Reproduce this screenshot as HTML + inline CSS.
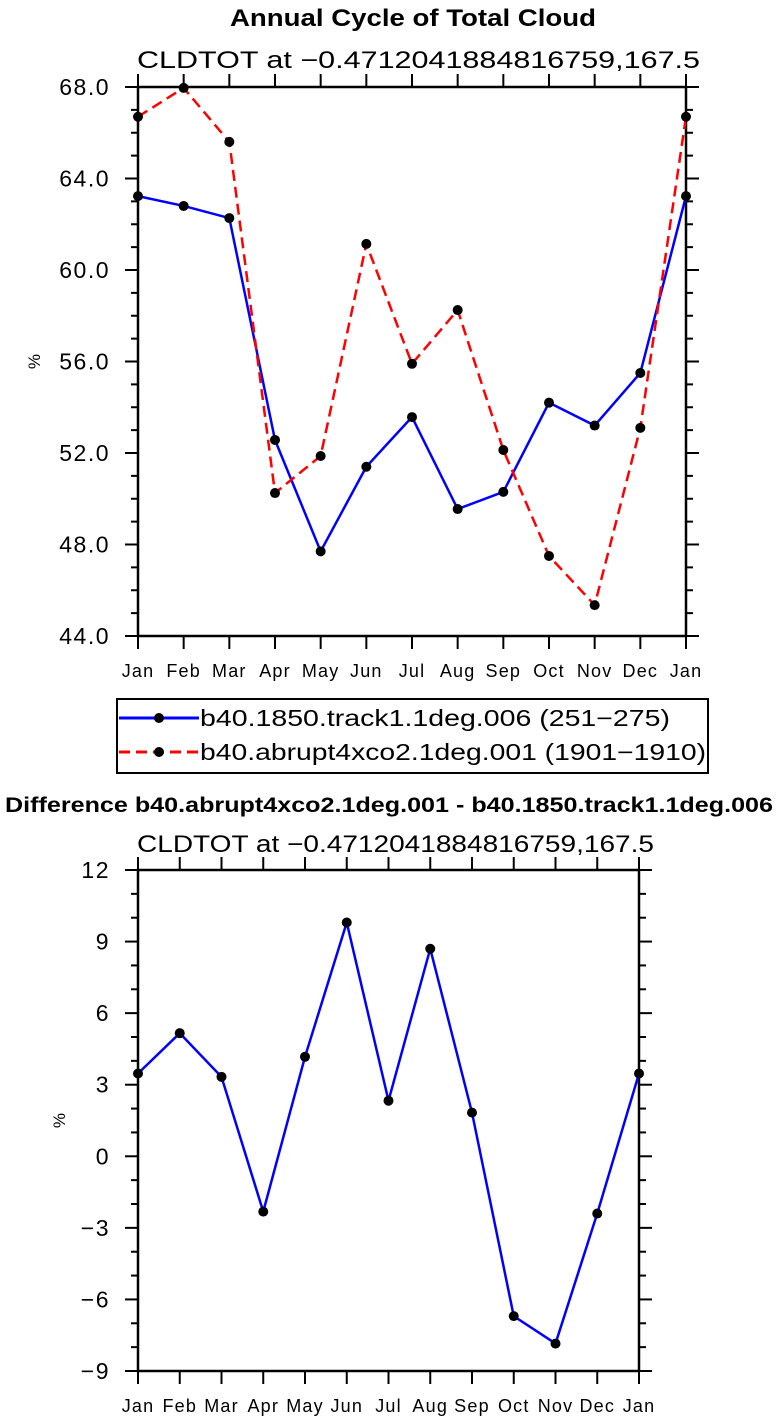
<!DOCTYPE html>
<html><head><meta charset="utf-8">
<style>
html,body{margin:0;padding:0;background:#fff;}
svg{display:block;font-family:"Liberation Sans",sans-serif;}
</style></head>
<body>
<svg id="chart" width="778" height="1419" xmlns="http://www.w3.org/2000/svg">
<text x="230" y="26" font-size="24" font-weight="bold" textLength="366" lengthAdjust="spacingAndGlyphs">Annual Cycle of Total Cloud</text>
<text x="137" y="68" font-size="24" textLength="563" lengthAdjust="spacingAndGlyphs">CLDTOT at −0.4712041884816759,167.5</text>
<text x="5" y="812" font-size="21" font-weight="bold" textLength="768" lengthAdjust="spacingAndGlyphs">Difference b40.abrupt4xco2.1deg.001 - b40.1850.track1.1deg.006</text>
<text x="137" y="852" font-size="24" textLength="517" lengthAdjust="spacingAndGlyphs">CLDTOT at −0.4712041884816759,167.5</text>
<g id="top"></g>
<g id="bot"></g>
<g>
<rect x="117" y="699" width="591" height="74" fill="none" stroke="#000" stroke-width="2"/>
<g>
<line x1="119" y1="718" x2="199" y2="718" stroke="#0000ff" stroke-width="3"/>
<circle cx="159" cy="718" r="5"/>
<text x="200" y="726" font-size="23" textLength="470" lengthAdjust="spacingAndGlyphs">b40.1850.track1.1deg.006 (251−275)</text>
</g>
<g>
<line x1="119" y1="752" x2="199" y2="752" stroke="#ff0000" stroke-width="3" stroke-dasharray="11,6"/>
<circle cx="159" cy="752" r="5"/>
<text x="200" y="760" font-size="23" textLength="506" lengthAdjust="spacingAndGlyphs">b40.abrupt4xco2.1deg.001 (1901−1910)</text>
</g>
</g>
</svg>
<script>
var months = ["Jan","Feb","Mar","Apr","May","Jun","Jul","Aug","Sep","Oct","Nov","Dec","Jan"];
var ctrlVals = [63.23,62.8,62.27,52.57,47.7,51.4,53.57,49.55,50.3,54.2,53.2,55.5,63.23];
var abrVals = [66.7,67.96,65.6,50.25,51.87,61.14,55.9,58.25,52.13,47.5,45.35,53.1,66.7];
var diffVals = [3.47,5.16,3.33,-2.32,4.17,9.8,2.33,8.7,1.83,-6.7,-7.85,-2.4,3.47];
var topTicks = ["44.0","48.0","52.0","56.0","60.0","64.0","68.0"];
var botTicks = ["-9","-6","-3","0","3","6","9","12"];
var NS="http://www.w3.org/2000/svg";
function mk(parent,tag,attrs){var e=document.createElementNS(NS,tag);for(var k in attrs)e.setAttribute(k,attrs[k]);parent.appendChild(e);return e;}
function plot(g,box,ymin,ymax,majorStep,minorStep,tickLabels,series,labelX){
  var L=box[0],T=box[1],R=box[2],B=box[3];
  function xs(i){return L+(R-L)*i/(months.length-1);}
  function ys(v){return B-(B-T)*(v-ymin)/(ymax-ymin);}
  var frame=mk(g,'rect',{x:L,y:T,width:R-L,height:B-T,fill:'none',stroke:'#000','stroke-width':2.5});
  
  
  for(var v=ymin;v<=ymax+1e-9;v+=minorStep){
    var maj=Math.abs((v-ymin)/majorStep-Math.round((v-ymin)/majorStep))<1e-6;
    var len=maj?13:7;
    mk(g,'line',{x1:L-len,y1:ys(v),x2:L,y2:ys(v),stroke:'#000','stroke-width':2});
    mk(g,'line',{x1:R,y1:ys(v),x2:R+len,y2:ys(v),stroke:'#000','stroke-width':2});
  }
  tickLabels.forEach(function(t){
    var tx=mk(g,'text',{x:L-28,y:ys(parseFloat(t))+8,'text-anchor':'end','font-size':23,'letter-spacing':1.5});
    tx.textContent=t.replace('-','−');
    
    
  });
  months.forEach(function(m,i){
    mk(g,'line',{x1:xs(i),y1:B,x2:xs(i),y2:B+13,stroke:'#000','stroke-width':2});
    mk(g,'line',{x1:xs(i),y1:T-13,x2:xs(i),y2:T,stroke:'#000','stroke-width':2});
    var tx=mk(g,'text',{x:xs(i),y:B+41,'text-anchor':'middle','font-size':18,'letter-spacing':1.2});
    tx.textContent=m;
    
    
  });
  var yt=mk(g,'text',{x:labelX,y:(T+B)/2,'text-anchor':'middle','font-size':17,transform:'rotate(-90 '+labelX+' '+((T+B)/2)+')'});
  yt.textContent='%';
  
  
  series.forEach(function(s){
    var pts=s.vals.map(function(v,i){return xs(i)+','+ys(v);}).join(' ');
    var pl=mk(g,'polyline',{points:pts,fill:'none',stroke:s.color,'stroke-width':2.5});
    if(s.dash)pl.setAttribute('stroke-dasharray',s.dash);
    
    
    s.vals.forEach(function(v,i){
      var c=mk(g,'circle',{cx:xs(i),cy:ys(v),r:5,fill:'#000'});
      
      
    });
  });
}
plot(document.getElementById('top'),[138,87,686,636],44,68,4,1,topTicks,
 [{vals:ctrlVals,color:'#0000ff',name:'control'},{vals:abrVals,color:'#ff0000',dash:'11,6',name:'abrupt4xco2'}],40);
plot(document.getElementById('bot'),[138,870,639,1371],-9,12,3,1,botTicks,
 [{vals:diffVals,color:'#0000ff',name:'difference'}],65);
</script>
</body></html>
